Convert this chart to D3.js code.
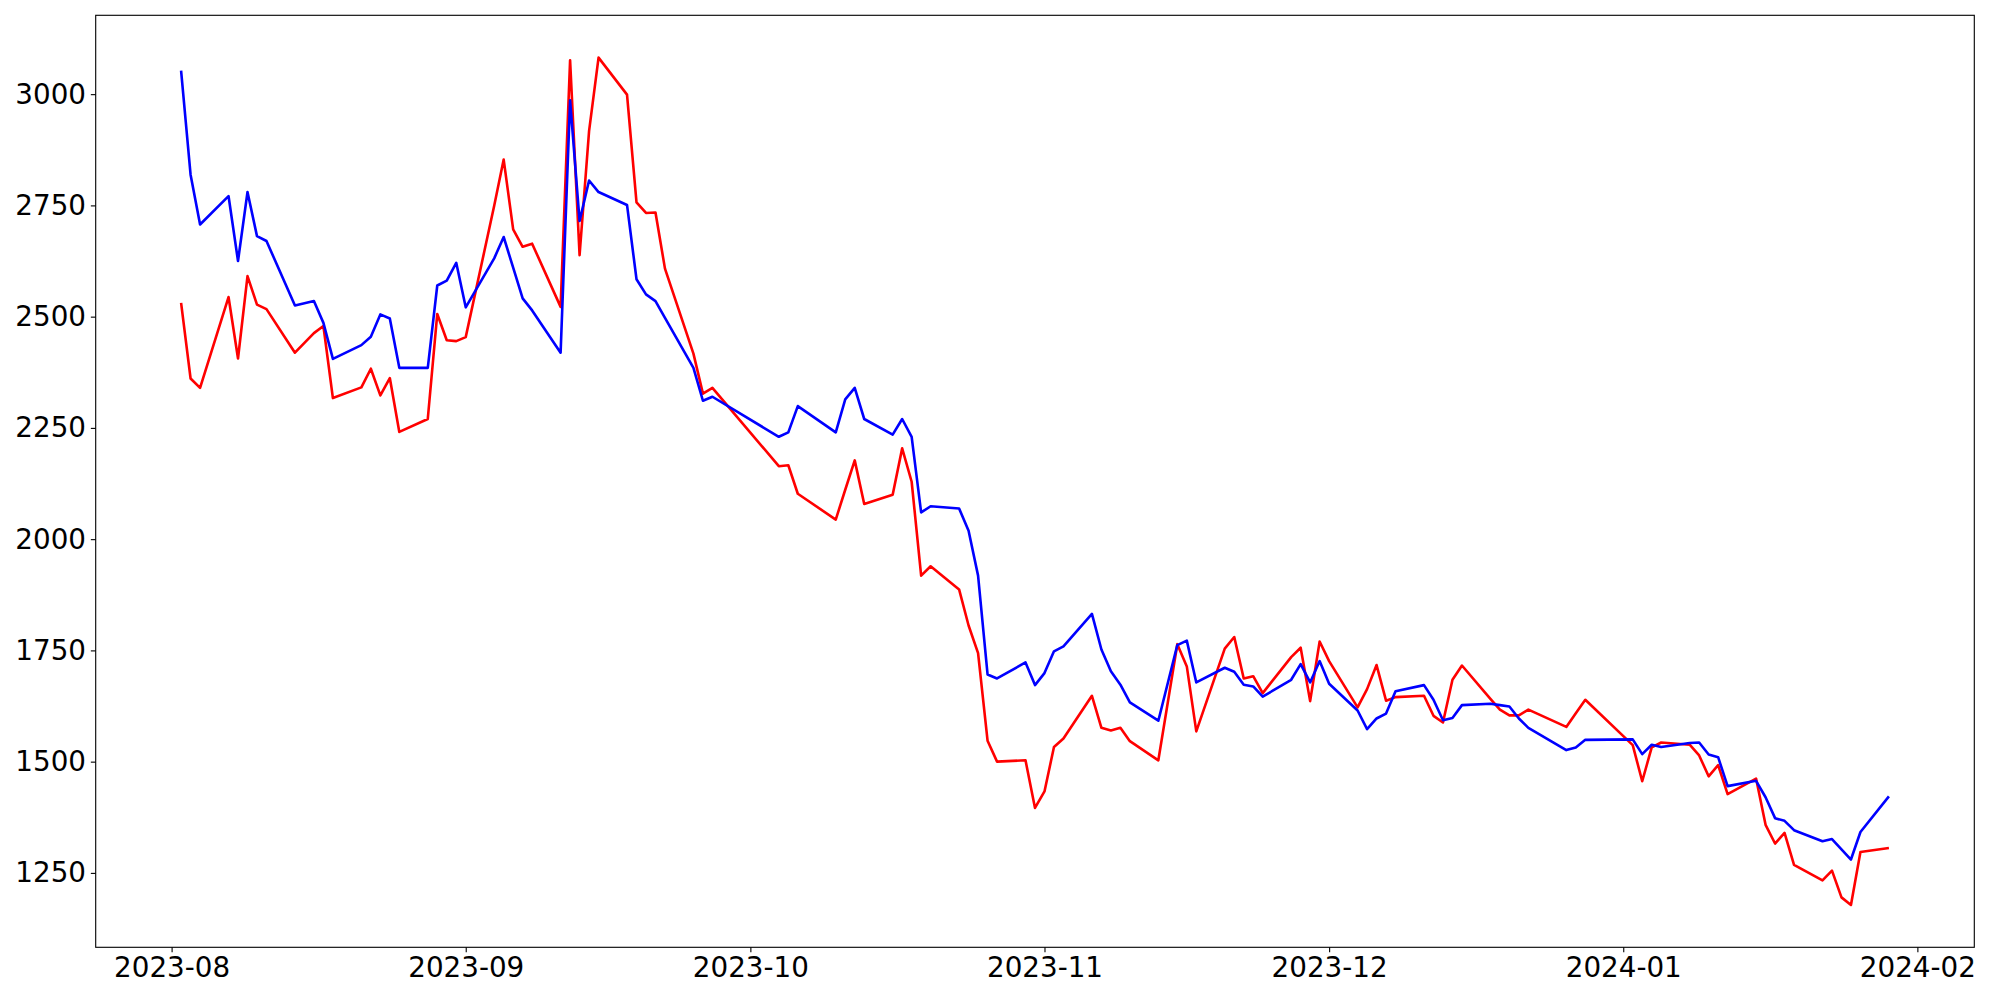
<!DOCTYPE html>
<html>
<head>
<meta charset="utf-8">
<script src="https://cdn.jsdelivr.net/npm/d3@7"></script>
<style>
  html, body { margin: 0; padding: 0; background: #ffffff; }
  svg { display: block; }
  text { font-family: "DejaVu Sans", sans-serif; }
</style>
</head>
<body>
<div id="chart"></div>
<script>
const dates = [
  "2023-08-02","2023-08-03","2023-08-04","2023-08-07","2023-08-08","2023-08-09","2023-08-10","2023-08-11",
  "2023-08-14","2023-08-16","2023-08-17","2023-08-18","2023-08-21","2023-08-22","2023-08-23","2023-08-24",
  "2023-08-25","2023-08-28","2023-08-29","2023-08-30","2023-08-31","2023-09-01","2023-09-04","2023-09-05",
  "2023-09-06","2023-09-07","2023-09-08","2023-09-11","2023-09-12","2023-09-13","2023-09-14","2023-09-15",
  "2023-09-18","2023-09-19","2023-09-20","2023-09-21","2023-09-22","2023-09-25","2023-09-26","2023-09-27",
  "2023-10-04","2023-10-05","2023-10-06","2023-10-10","2023-10-11","2023-10-12","2023-10-13","2023-10-16",
  "2023-10-17","2023-10-18","2023-10-19","2023-10-20","2023-10-23","2023-10-24","2023-10-25","2023-10-26",
  "2023-10-27","2023-10-30","2023-10-31","2023-11-01","2023-11-02","2023-11-03","2023-11-06","2023-11-07",
  "2023-11-08","2023-11-09","2023-11-10","2023-11-13","2023-11-15","2023-11-16","2023-11-17","2023-11-20",
  "2023-11-21","2023-11-22","2023-11-23","2023-11-24","2023-11-27","2023-11-28","2023-11-29","2023-11-30",
  "2023-12-01","2023-12-04","2023-12-05","2023-12-06","2023-12-07","2023-12-08","2023-12-11","2023-12-12",
  "2023-12-13","2023-12-14","2023-12-15","2023-12-18","2023-12-19","2023-12-20","2023-12-21","2023-12-22",
  "2023-12-26","2023-12-27","2023-12-28","2024-01-02","2024-01-03","2024-01-04","2024-01-05","2024-01-08",
  "2024-01-09","2024-01-10","2024-01-11","2024-01-12","2024-01-15","2024-01-16","2024-01-17","2024-01-18",
  "2024-01-19","2024-01-22","2024-01-23","2024-01-24","2024-01-25","2024-01-26","2024-01-29"
];

const redValues = [
  2531, 2361, 2340, 2544, 2406, 2591, 2527, 2517,
  2419, 2463, 2479, 2317, 2341, 2383, 2323, 2362,
  2241, 2270, 2506, 2447, 2445, 2454, 2749, 2853,
  2696, 2657, 2664, 2522, 3076, 2638, 2917, 3082,
  2999, 2757, 2733, 2734, 2608, 2417, 2327, 2340,
  2164, 2166, 2102, 2044, 2111, 2177, 2079, 2100,
  2204, 2129, 1918, 1939, 1887, 1806, 1744, 1547,
  1500, 1503, 1396, 1433, 1533, 1552, 1648, 1576,
  1570, 1576, 1546, 1503, 1764, 1714, 1568, 1754,
  1780, 1687, 1692, 1654, 1735, 1756, 1636, 1770,
  1726, 1622, 1663, 1717, 1637, 1645, 1648, 1603,
  1588, 1684, 1716, 1641, 1617, 1604, 1604, 1617,
  1578, 1609, 1639, 1537, 1456, 1532, 1543, 1538,
  1514, 1467, 1492, 1427, 1462, 1358, 1316, 1340,
  1268, 1233, 1255, 1195, 1178, 1297, 1306
];

const blueValues = [
  3053, 2819, 2707, 2771, 2625, 2780, 2681, 2670,
  2525, 2535, 2486, 2405, 2436, 2455, 2505, 2496,
  2385, 2385, 2570, 2581, 2621, 2521, 2631, 2679,
  2610, 2541, 2514, 2419, 2986, 2715, 2806, 2780,
  2751, 2584, 2550, 2535, 2497, 2385, 2311, 2320,
  2230, 2240, 2299, 2240, 2314, 2340, 2270, 2235,
  2270, 2230, 2060, 2074, 2069, 2019, 1918, 1696,
  1687, 1723, 1672, 1699, 1748, 1759, 1832, 1752,
  1703, 1673, 1633, 1592, 1762, 1772, 1678, 1711,
  1702, 1673, 1669, 1646, 1684, 1719, 1678, 1726,
  1675, 1615, 1573, 1597, 1608, 1658, 1672, 1639,
  1593, 1598, 1627, 1630, 1627, 1624, 1597, 1576,
  1526, 1532, 1549, 1550, 1517, 1538, 1533, 1542,
  1543, 1516, 1510, 1445, 1457, 1420, 1373, 1367,
  1346, 1321, 1326, 1303, 1280, 1342, 1422
];

const yTickValues = [1250, 1500, 1750, 2000, 2250, 2500, 2750, 3000];
const xTickFormat = "%Y-%m";

const W = 2000, H = 1000;
const margin = { top: 15.3, right: 25.7, bottom: 52.7, left: 95.7 };
const pw = W - margin.left - margin.right;
const ph = H - margin.top - margin.bottom;
const fontPx = 27.78;
const tickLen = 4.86;
const tickPad = 4.86;

const parse = d3.timeParse("%Y-%m-%d");
const parsedDates = dates.map(parse);

const svg = d3.select("#chart").append("svg")
  .attr("width", W).attr("height", H)
  .style("background", "#ffffff");

const g = svg.append("g").attr("transform", `translate(${margin.left},${margin.top})`);

const xExt = d3.extent(parsedDates);
const xPad = (xExt[1] - xExt[0]) * 0.05;
const x = d3.scaleTime()
  .domain([new Date(+xExt[0] - xPad), new Date(+xExt[1] + xPad)])
  .range([0, pw]);

const allVals = redValues.concat(blueValues);
const yExt = d3.extent(allVals);
const yPad = (yExt[1] - yExt[0]) * 0.05;
const y = d3.scaleLinear()
  .domain([yExt[0] - yPad, yExt[1] + yPad])
  .range([ph, 0]);

const line = d3.line()
  .x((d, i) => x(parsedDates[i]))
  .y(d => y(d));

g.append("path")
  .datum(redValues)
  .attr("fill", "none")
  .attr("stroke", "#ff0000")
  .attr("stroke-width", 2.6)
  .attr("stroke-linejoin", "round")
  .attr("d", line);

g.append("path")
  .datum(blueValues)
  .attr("fill", "none")
  .attr("stroke", "#0000ff")
  .attr("stroke-width", 2.6)
  .attr("stroke-linejoin", "round")
  .attr("d", line);

const xAxis = d3.axisBottom(x)
  .ticks(d3.timeMonth.every(1))
  .tickFormat(d3.timeFormat(xTickFormat))
  .tickSizeInner(tickLen)
  .tickSizeOuter(0)
  .tickPadding(tickPad);

const yAxis = d3.axisLeft(y)
  .tickValues(yTickValues)
  .tickFormat(d3.format("d"))
  .tickSizeInner(tickLen)
  .tickSizeOuter(0)
  .tickPadding(tickPad);

const gx = g.append("g").attr("transform", `translate(0,${ph})`).call(xAxis);
const gy = g.append("g").call(yAxis);

[gx, gy].forEach(ax => {
  ax.select(".domain").remove();
  ax.selectAll(".tick line").attr("stroke", "#000").attr("stroke-width", 1.11);
  ax.selectAll(".tick text")
    .attr("fill", "#000")
    .style("font-family", "'DejaVu Sans', sans-serif")
    .style("font-size", fontPx + "px");
});

g.append("rect")
  .attr("x", 0).attr("y", 0)
  .attr("width", pw).attr("height", ph)
  .attr("fill", "none")
  .attr("stroke", "#000")
  .attr("stroke-width", 1.11);
</script>
</body>
</html>
